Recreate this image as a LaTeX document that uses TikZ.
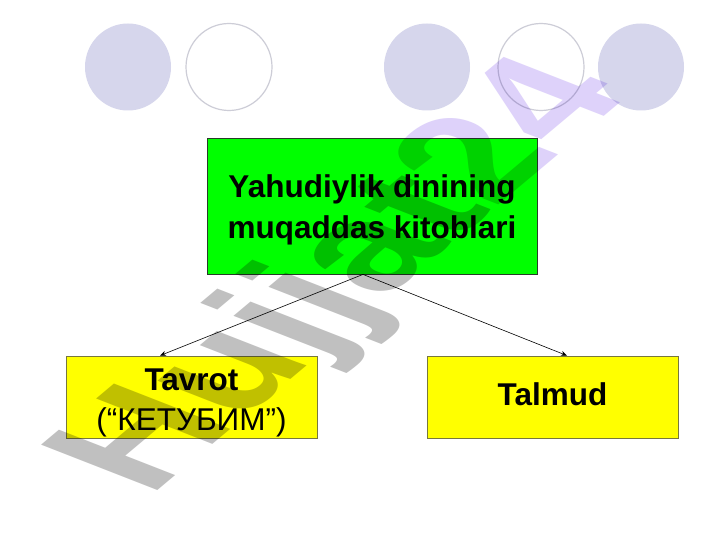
\documentclass[tikz,border=0pt]{standalone}
\usepackage{fontspec}
\setmainfont{Liberation Sans}
\usetikzlibrary{arrows.meta}
\definecolor{circfill}{RGB}{214,214,236}
\definecolor{circline}{RGB}{205,205,215}
\definecolor{boxgreen}{RGB}{0,255,0}
\definecolor{boxyellow}{RGB}{255,255,0}
\definecolor{greenedge}{RGB}{40,60,40}
\definecolor{yellowedge}{RGB}{120,120,60}
\definecolor{wmgray}{RGB}{192,192,192}
\definecolor{wmlav}{RGB}{222,210,250}
\tikzset{
  filledcirc/.style={fill=circfill},
  opencirc/.style={draw=circline, line width=1.2pt},
  greenbox/.style={draw=greenedge, fill=boxgreen, line width=0.8pt,
    minimum width=330pt, minimum height=136pt, inner sep=0pt, align=center,
    font=\fontsize{31.5}{40}\selectfont\bfseries, text height=64pt, text depth=0pt},
  yelbox/.style={draw=yellowedge, fill=boxyellow, line width=0.8pt,
    minimum width=251pt, minimum height=82pt, inner sep=0pt, align=center,
    font=\fontsize{31.5}{40}\selectfont},
  conn/.style={-{Stealth[length=6pt,width=5pt]}, line width=0.6pt},
  wmark/.style={transform shape, anchor=base west, inner sep=0pt,
    font=\fontsize{100}{100}\selectfont\bfseries}
}
\begin{document}
\begin{tikzpicture}[x=1pt,y=1pt]
\useasboundingbox (0,0) rectangle (720,-540);
\fill[white] (0,0) rectangle (720,-540);
% decorative circles
\fill[filledcirc] (128,-67) ellipse [x radius=43pt, y radius=43.5pt];
\draw[opencirc] (229,-67) ellipse [x radius=43pt, y radius=43.5pt];
\fill[filledcirc] (427,-67) ellipse [x radius=43pt, y radius=43.5pt];
\draw[opencirc] (541,-67) ellipse [x radius=43pt, y radius=43.5pt];
\fill[filledcirc] (641,-67) ellipse [x radius=43pt, y radius=43.5pt];
% boxes
\node[greenbox] (g) at (372,-206) {Yahudiylik dinining\\muqaddas kitoblari};
\node[yelbox, text height=66pt, text depth=0pt] (t) at (191.5,-397) {\textbf{Tavrot}\\(“КЕТУБИМ”)};
\node[yelbox, text height=22pt, text depth=6pt] (m) at (552.5,-397) {\textbf{Talmud}};
% connectors
\draw[conn] ([xshift=-9pt]g.south) -- ([xshift=-31.5pt]t.north);
\draw[conn] ([xshift=-9pt]g.south) -- ([xshift=14.5pt]m.north);
% watermark
\begin{scope}[blend mode=multiply]
\begin{scope}[cm={1.24,1.04,-1.69,0.66,(149.4,-497.6)}]
\node[wmark] (wm) at (0,0) {\textcolor{wmgray}{Hujjat}\textcolor{wmlav}{24}};
\end{scope}
\end{scope}
\end{tikzpicture}
\end{document}
